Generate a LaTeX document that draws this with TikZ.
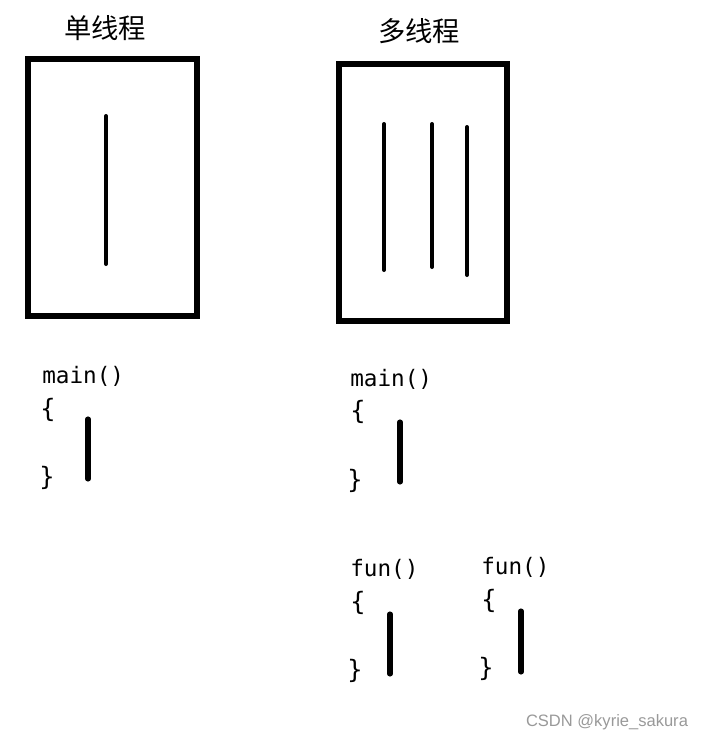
\documentclass[tikz,border=0pt]{standalone}
\usepackage{fontspec}
\setmainfont{Liberation Sans}
\newfontfamily\cjk{Noto Sans CJK SC}
\newfontfamily\codefont{DejaVu Sans Mono}
\usetikzlibrary{positioning}

\tikzset{
	frame/.style={line width=3.8pt},
	thread/.style={line width=3pt,line cap=round},
	codebar/.style={line width=3.8pt,line cap=round},
	title/.style={font=\cjk\fontsize{20.5}{20.5}\selectfont,inner sep=0pt},
	code/.style={font=\codefont\fontsize{17}{17}\selectfont,inner sep=0pt,anchor=west},
	brace/.style={font=\codefont\fontsize{19}{19}\selectfont,inner sep=0pt}
}

\begin{document}
\begin{tikzpicture}[x=0.75pt,y=-0.75pt]
	\useasboundingbox (0,0) rectangle (702,742);
	% single thread
	\node[title] (t1) at (105,28) {单线程};
	\draw[frame] (28,59) rectangle (197,316);
	\draw[thread] (106,116)--(106,264);
	% multi thread
	\node[title] (t2) at (419,31) {多线程};
	\draw[frame] (339,64) rectangle (507,321);
	\draw[thread] (384,124)--(384,270);
	\draw[thread] (432,124)--(432,267);
	\draw[thread] (467,127)--(467,275);
	% main, left
	\node[code] (m1) at (42,376) {main()};
	\node[brace] (m1a) at (48,410) {\{};
	\node[brace] (m1b) at (47,478) {\}};
	\draw[codebar] (88,419)--(88,479);
	% main, right
	\node[code] (m2) at (350,379) {main()};
	\node[brace] (m2a) at (358,412) {\{};
	\node[brace] (m2b) at (355,481) {\}};
	\draw[codebar] (400,422)--(400,482);
	% fun, left
	\node[code] (f1) at (350,569) {fun()};
	\node[brace] (f1a) at (358,603) {\{};
	\node[brace] (f1b) at (355,671) {\}};
	\draw[codebar] (390,614)--(390,674);
	% fun, right
	\node[code] (f2) at (481,567) {fun()};
	\node[brace] (f2a) at (489,601) {\{};
	\node[brace] (f2b) at (486,669) {\}};
	\draw[codebar] (521,611)--(521,672);
	% watermark
	\node[font=\fontsize{12.4}{12.4}\selectfont,text=black!40,inner sep=0pt] (wm) at (607,722) {CSDN @kyrie\_sakura};
\end{tikzpicture}
\end{document}
